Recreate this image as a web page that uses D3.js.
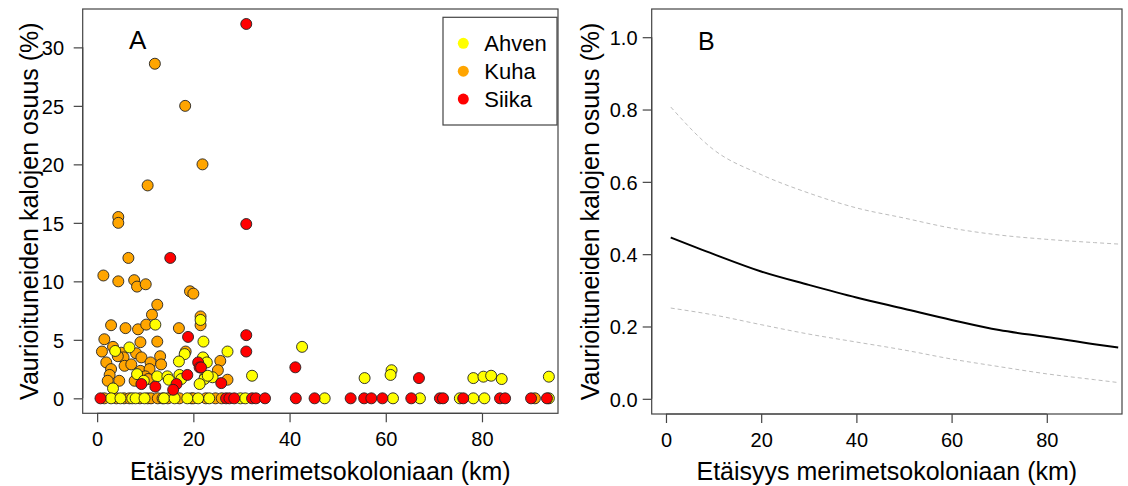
<!DOCTYPE html>
<html>
<head>
<meta charset="utf-8">
<script src="https://cdn.jsdelivr.net/npm/d3@7"></script>
<style>
  html, body { margin: 0; padding: 0; background: #fff; }
  svg { display: block; font-family: "Liberation Sans", Arial, sans-serif; }
</style>
</head>
<body>
<svg id="chart" width="1128" height="486"></svg>
<script>
// ---------------- DATA ----------------
// Panel A: damaged fish share (%) vs distance to cormorant colony (km)
const species = ["Ahven", "Kuha", "Siika"];
const speciesColors = ["#FFFF00", "#FFA500", "#FF0000"];

const kuhaX = [12.0, 18.3, 21.9, 10.5, 4.4, 4.4, 6.5, 1.3, 4.4, 7.7, 8.3, 10.1, 19.3, 20.0, 12.5, 11.4, 21.5, 21.5,
  2.9, 5.9, 8.5, 10.2, 17.0, 1.5, 9.0, 12.5, 3.3, 1.0, 5.0, 8.1, 5.5, 4.3, 9.2, 13.1, 11.1, 1.9, 5.7, 7.1, 13.3,
  18.4, 2.9, 9.0, 10.9, 10.0, 2.6, 4.6, 2.2, 7.8, 10.6, 25.6, 25.1, 27.1,
  1.5, 4.0, 5.6, 6.7, 8.9, 10.5, 11.2, 12.6, 13.6, 14.7, 17.1, 19.6, 20.0, 22.6, 24.6, 25.9, 91.0];
const kuhaY = [28.6, 25.0, 20.0, 18.2, 15.5, 15.0, 12.0, 10.5, 10.0, 10.1, 9.55, 9.75, 9.15, 8.95, 8.0, 7.15, 7.0, 6.25,
  6.25, 6.0, 5.9, 6.3, 6.0, 5.05, 4.8, 4.85, 4.4, 4.0, 3.9, 3.85, 3.5, 3.6, 3.5, 3.6, 3.07, 3.07, 2.78, 2.9, 2.9,
  4.0, 2.5, 2.35, 2.5, 1.88, 2.0, 1.5, 1.5, 1.5, 1.65, 3.2, 2.4, 1.59,
  0, 0, 0, 0, 0, 0, 0, 0, 0, 0, 0, 0, 0, 0, 0, 0, 0];

const ahvenX = [21.5, 12.1, 6.7, 3.75, 22.1, 18.2, 17.0, 22.1, 8.3, 12.5, 17.1, 14.6, 22.4, 9.7, 14.9, 3.3, 17.5,
  27.1, 42.6, 32.2, 22.0, 22.8, 22.3, 24.0, 23.0, 21.3, 55.6, 61.2, 61.0, 78.2, 80.3, 81.9, 84.1, 93.9,
  2.9, 4.85, 7.3, 8.0, 9.85, 13.9, 16.1, 18.75, 21.0, 23.3, 29.8, 30.8, 47.3, 61.5, 67.1, 75.4, 78.2, 80.5, 93.9];
const ahvenY = [6.7, 6.3, 4.35, 4.05, 4.85, 3.78, 3.15, 3.4, 2.07, 1.88, 2.0, 1.88, 1.8, 1.5, 1.59, 0.85, 1.65,
  4.0, 4.4, 1.93, 3.5, 3.07, 1.65, 1.8, 1.93, 1.22, 1.73, 2.4, 2.0, 1.73, 1.85, 1.93, 1.65, 1.85,
  0, 0, 0, 0, 0, 0, 0, 0, 0, 0, 0, 0, 0, 0, 0, 0, 0, 0, 0];

const siikaX = [31.0, 31.0, 15.2, 18.9, 31.0, 31.0, 41.2, 21.0, 21.3, 18.75, 9.2, 12.1, 16.5, 15.8, 21.6, 25.8, 66.9,
  0.7, 26.8, 27.5, 28.5, 32.2, 33.0, 34.9, 41.3, 45.2, 52.7, 55.5, 57.0, 59.3, 65.3, 71.25, 71.9, 76.1, 83.75, 84.8, 90.2, 93.5];
const siikaY = [32.0, 14.9, 12.0, 5.25, 5.4, 4.0, 2.65, 3.07, 2.64, 2.0, 1.22, 1.0, 1.22, 0.73, 2.64, 1.3, 1.73,
  0, 0, 0, 0, 0, 0, 0, 0, 0, 0, 0, 0, 0, 0, 0, 0, 0, 0, 0, 0, 0];

// Panel B: fitted model with confidence band
const fitX     = [1, 10, 20, 30, 40, 50, 60, 70, 80, 90, 95];
const fitMean  = [0.446, 0.400, 0.352, 0.315, 0.280, 0.249, 0.218, 0.190, 0.171, 0.151, 0.142];
const fitUpper = [0.807, 0.689, 0.620, 0.569, 0.528, 0.500, 0.472, 0.453, 0.441, 0.432, 0.428];
const fitLower = [0.251, 0.232, 0.205, 0.179, 0.157, 0.135, 0.110, 0.089, 0.069, 0.053, 0.045];

const xTicks = [0, 20, 40, 60, 80];
const yTicksA = [0, 5, 10, 15, 20, 25, 30];
const yTicksB = [0, 0.2, 0.4, 0.6, 0.8, 1.0];

const xTitle = "Etäisyys merimetsokoloniaan (km)";
const yTitle = "Vaurioituneiden kalojen osuus (%)";

// ---------------- LAYOUT ----------------
const svg = d3.select("#chart");
const frameColor = "#444";

const A = { left: 82.7, right: 558, top: 9, bottom: 413.3 };
const B = { left: 651.7, right: 1122, top: 9, bottom: 414 };

const xA = d3.scaleLinear().domain([-3.0, 95.8]).range([A.left, A.right]);
const yA = d3.scaleLinear().domain([-1.28, 33.28]).range([A.bottom, A.top]);
const xB = d3.scaleLinear().domain([-3.0, 95.8]).range([B.left, B.right]);
const yB = d3.scaleLinear().domain([-0.042, 1.078]).range([B.bottom, B.top]);

function frame(P) {
  svg.append("rect")
    .attr("x", P.left).attr("y", P.top)
    .attr("width", P.right - P.left).attr("height", P.bottom - P.top)
    .attr("fill", "none").attr("stroke", frameColor).attr("stroke-width", 1.2);
}

function axes(P, xs, ys, yTicks, yFmt, yLabelRight, yTitleX) {
  const gx = svg.append("g").attr("transform", `translate(0,${P.bottom})`)
    .call(d3.axisBottom(xs).tickValues(xTicks).tickSize(9).tickPadding(6).tickFormat(d3.format("d")));
  gx.select(".domain").attr("stroke", frameColor).attr("stroke-width", 1.2)
    .attr("d", `M${xs(xTicks[0])},0H${xs(xTicks[xTicks.length - 1])}`);
  gx.selectAll(".tick line").attr("stroke", frameColor).attr("stroke-width", 1.2);
  gx.selectAll(".tick text").attr("font-size", 20).attr("fill", "#000")
    .attr("y", 0).attr("dy", 0).attr("transform", "translate(0,33)");

  const gy = svg.append("g").attr("transform", `translate(${P.left},0)`)
    .call(d3.axisLeft(ys).tickValues(yTicks).tickSize(9).tickFormat(yFmt));
  gy.select(".domain").attr("stroke", frameColor).attr("stroke-width", 1.2)
    .attr("d", `M0,${ys(yTicks[0])}V${ys(yTicks[yTicks.length - 1])}`);
  gy.selectAll(".tick line").attr("stroke", frameColor).attr("stroke-width", 1.2);
  gy.selectAll(".tick text").attr("font-size", 20).attr("fill", "#000")
    .attr("x", yLabelRight - P.left).attr("dy", "0.36em").attr("text-anchor", "end");

  svg.append("text")
    .attr("x", (P.left + P.right) / 2).attr("y", 480)
    .attr("text-anchor", "middle").attr("font-size", 25).attr("fill", "#000")
    .text(xTitle);
  svg.append("text")
    .attr("transform", `translate(${yTitleX},${(P.top + P.bottom) / 2}) rotate(-90)`)
    .attr("text-anchor", "middle").attr("font-size", 25).attr("fill", "#000")
    .text(yTitle);
}

// ---------------- PANEL A ----------------
frame(A);
axes(A, xA, yA, yTicksA, d3.format("d"), 64, 38);

const groups = [
  { name: "Kuha", xs: kuhaX, ys: kuhaY, color: speciesColors[1] },
  { name: "Ahven", xs: ahvenX, ys: ahvenY, color: speciesColors[0] },
  { name: "Siika", xs: siikaX, ys: siikaY, color: speciesColors[2] }
];
groups.forEach(g => {
  const pts = g.xs.map((x, i) => [x, g.ys[i]]);
  svg.append("g").selectAll("circle").data(pts).join("circle")
    .attr("cx", d => xA(d[0])).attr("cy", d => yA(d[1]))
    .attr("r", 5.5)
    .attr("fill", g.color).attr("stroke", "#222").attr("stroke-width", 0.9);
});

svg.append("text").attr("x", 129).attr("y", 49).attr("font-size", 26).attr("fill", "#000").text("A");

// legend
const leg = svg.append("g");
leg.append("rect").attr("x", 443).attr("y", 17.3).attr("width", 114).attr("height", 107.7)
  .attr("fill", "#fff").attr("stroke", frameColor).attr("stroke-width", 1.2);
species.forEach((s, i) => {
  const cy = 43.3 + i * 27.9;
  leg.append("circle").attr("cx", 463.3).attr("cy", cy).attr("r", 5.5).attr("fill", speciesColors[i]);
  leg.append("text").attr("x", 484.3).attr("y", cy).attr("dy", "0.36em")
    .attr("font-size", 22).attr("fill", "#000").text(s);
});

// ---------------- PANEL B ----------------
frame(B);
axes(B, xB, yB, yTicksB, d3.format(".1f"), 637.5, 599);

const line = d3.line().x(d => xB(d[0])).y(d => yB(d[1])).curve(d3.curveMonotoneX);
[fitUpper, fitLower].forEach(arr => {
  svg.append("path").datum(fitX.map((x, i) => [x, arr[i]]))
    .attr("d", line).attr("fill", "none")
    .attr("stroke", "#bdbdbd").attr("stroke-width", 1).attr("stroke-dasharray", "4,3");
});
svg.append("path").datum(fitX.map((x, i) => [x, fitMean[i]]))
  .attr("d", line).attr("fill", "none").attr("stroke", "#000").attr("stroke-width", 2);

svg.append("text").attr("x", 698).attr("y", 50).attr("font-size", 25).attr("fill", "#000").text("B");
</script>
</body>
</html>
